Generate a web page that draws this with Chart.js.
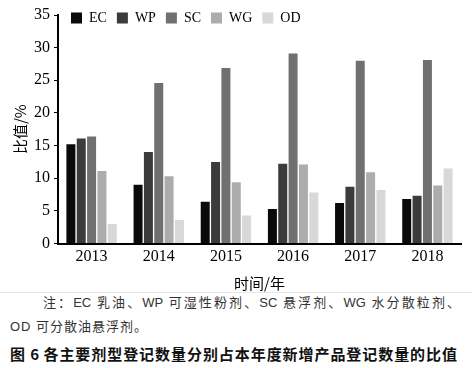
<!DOCTYPE html>
<html>
<head>
<meta charset="utf-8">
<script src="https://cdn.jsdelivr.net/npm/chart.js@4.4.1/dist/chart.umd.min.js"></script>
<style>
body{margin:0;background:#fff;width:472px;height:368px;overflow:hidden;position:relative}
#wrap{position:absolute;left:0;top:0;width:472px;height:292px}
#rule{position:absolute;left:0;top:292px;width:472px;border-top:1px solid #e6e6e6}
.note{position:absolute;font-family:"Liberation Sans","Noto Sans CJK SC",sans-serif;font-size:13px;line-height:16px;color:#333}
#n1{left:43px;top:295px;width:417px;text-align:justify;text-align-last:justify;height:16px;overflow:hidden}
#n2{left:10px;top:319px;letter-spacing:1px;white-space:nowrap}
#cap{position:absolute;left:10px;top:345px;width:447px;height:18px;overflow:hidden;font-family:"Noto Sans CJK SC",sans-serif;font-weight:bold;font-size:15px;line-height:18px;color:#111;text-align:justify;text-align-last:justify}
</style>
</head>
<body>
<div id="wrap"><canvas id="grafico"></canvas></div>
<div id="rule"></div>
<div class="note" id="n1">注：EC 乳油、WP 可湿性粉剂、SC 悬浮剂、WG 水分散粒剂、</div>
<div class="note" id="n2">OD 可分散油悬浮剂。</div>
<div id="cap">图 6 各主要剂型登记数量分别占本年度新增产品登记数量的比值</div>
<script>
const anos = ['2013', '2014', '2015', '2016', '2017', '2018'];
const valoresEC = [15.2, 9.0, 6.4, 5.3, 6.2, 6.8];
const valoresWP = [16.1, 14.0, 12.5, 12.2, 8.7, 7.3];
const valoresSC = [16.4, 24.6, 26.9, 29.1, 28.0, 28.1];
const valoresWG = [11.1, 10.3, 9.4, 12.1, 10.9, 8.9];
const valoresOD = [3.0, 3.6, 4.3, 7.8, 8.2, 11.5];

const fonteSerif = 'Liberation Serif';
const fonteCJK = 'Noto Sans CJK SC';

const dataDosagem = {
    labels: anos,
    datasets: [
        { label: 'EC', data: valoresEC, backgroundColor: '#0a0a0a' },
        { label: 'WP', data: valoresWP, backgroundColor: '#3b3b3b' },
        { label: 'SC', data: valoresSC, backgroundColor: '#707070' },
        { label: 'WG', data: valoresWG, backgroundColor: '#acacac' },
        { label: 'OD', data: valoresOD, backgroundColor: '#d8d8d8' }
    ]
}

// legenda em linha, dentro da area do grafico, no canto superior
const posicaoLegenda = {
    id: 'posicaoLegenda',
    beforeLayout(chart) {
        chart.legend.isHorizontal = () => true;
    },
    afterLayout(chart) {
        const lg = chart.legend;
        lg.top = 1;
        lg.left = 61;
    }
}

const configDosagem = {
    type: 'bar',
    data: dataDosagem,
    plugins: [posicaoLegenda],
    options: {
        responsive: true,
        maintainAspectRatio: false,
        animation: false,
        categoryPercentage: 0.77,
        barPercentage: 0.87,
        layout: { padding: { top: 15, right: 11, bottom: 0, left: 0 } },
        plugins: {
            legend: {
                position: 'chartArea',
                align: 'start',
                labels: {
                    boxWidth: 11,
                    boxHeight: 11,
                    padding: 10,
                    color: '#000',
                    font: { family: fonteSerif, size: 14 }
                }
            },
            tooltip: { enabled: false }
        },
        scales: {
            x: {
                grid: { display: false, drawTicks: false },
                border: { color: '#000', width: 2 },
                ticks: { color: '#000', padding: 4, font: { family: fonteSerif, size: 16 } },
                title: { display: true, text: '时间/年', color: '#000', font: { family: fonteCJK, size: 15 }, padding: 0 },
                afterFit(s) { s.height = 48.5; }
            },
            y: {
                min: 0,
                max: 35,
                ticks: { stepSize: 5, color: '#000', padding: 4, font: { family: fonteSerif, size: 16 } },
                grid: { drawOnChartArea: false, tickLength: 4, color: '#000' },
                border: { color: '#000', width: 2 },
                title: { display: true, text: '比值/%', color: '#000', font: { family: fonteCJK, size: 15 }, padding: { top: 11, bottom: 0 } },
                afterFit(s) { s.width = 58; }
            }
        }
    }
}

const instanciaGrafico = new Chart(document.getElementById('grafico'), configDosagem);
</script>
</body>
</html>
